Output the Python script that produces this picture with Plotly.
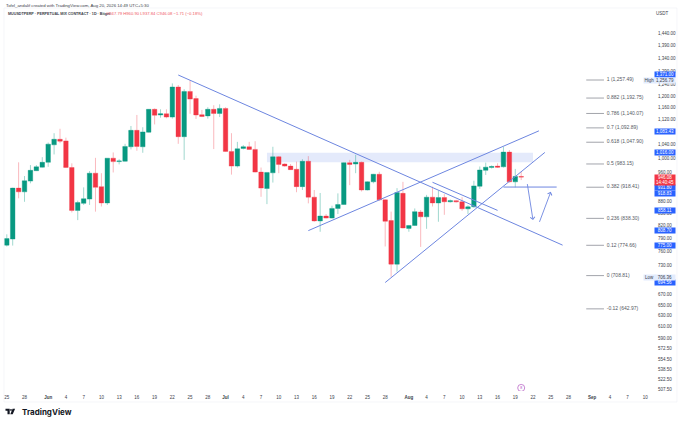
import math
import pandas as pd
import plotly.graph_objects as go

# ---- data ----
start_date = "2026-05-25"
opens = [775,789,916,906,935,964,974,988,1040,1057,1052,973,858,876,887,957,920,877,1000,990,991,1034,1085,1034,1079,1154,1135,1139,1128,1232,1065,1216,1191,
         1136,1132,1154,1140,1157,1020,977,1029,1034,1026,960,915,958,1004,983,977,968,920,991,892,832,844,839,863,873,987,983,988,911,933,954,885,
         833,733,902,814,821,854,842,892,877,891,880,883,880,862,867,921,965,973,977,975,1018,933,947.79]
highs = [800,917,988,949,980,980,1003,1047,1076,1090,1062,985,883,918,963,1001,957,1000,1017,997,1043,1099,1135,1095,1155,1157,1154,1154,1245,1239,1224,1256.79,1201,
         1152,1161,1168,1171,1161,1076,1049,1039,1049,1051,973,959,1034,1006,985,983,990,997,1006,911,903,849,870,902,988,995,1010,990,934,955,961,886,
         855,916,933,822,863,859,898,920,909,900,886,885,892,871,936,976,987,979,985,1034,1024,969,960.9]
lows = [772,774,889,880,929,963,973,975,1011,1045,972,853,834,872,872,855,868,872,959,982,990,1026,1022,1016,1078,1104,1126,1124,1123,1043,995,1139,1122,
        1128,1123,1027,1128,1019,953,973,1026,1025,959,893,874,931,957,975,966,905,911,876,830,806,838,838,849,872,924,957,907,910,929,883,772,
        706.36,717,814,806,820,771,813,868,830,847,878,878,857,849,865,914,952,970,972,973,931,918,937.84]
closes = [790,916,906,936,965,975,988,1042,1057,1051,973,858,878,888,957,918,877,1000,990,992,1035,1085,1035,1080,1154,1134,1139,1128,1232,1065,1216,1189,1135,
          1130,1154,1140,1157,1020,977,1028,1034,1026,960,916,959,1004,982,977,967,920,991,892,832,844,839,863,873,987,982,988,911,933,954,885,831,
          733,904,815,821,855,842,892,877,891,880,883,880,862,867,922,966,974,976,974,1018,933,948,946.08]

fib_ratios = ["1","0.882","0.786","0.7","0.618","0.5","0.382","0.236","0.12","0","-0.12"]
fib_prices = [1257.49,1192.75,1140.07,1092.89,1047.90,983.15,918.41,838.30,774.66,708.81,642.97]
fib_from, fib_to = "2026-08-31", "2026-09-03"

price_ticks = [1440,1390,1340,1290,1240,1200,1160,1120,1040,1000,960,880,850,820,790,760,730,
               670,650,630,610,590,572.5,554.5,538.5,522.5,507.5]

date_ticks = ["2026-05-25","2026-05-28","2026-06-01","2026-06-04","2026-06-07","2026-06-10","2026-06-13","2026-06-16",
              "2026-06-19","2026-06-22","2026-06-25","2026-06-28","2026-07-01","2026-07-04","2026-07-07","2026-07-10",
              "2026-07-13","2026-07-16","2026-07-19","2026-07-22","2026-07-25","2026-07-28","2026-08-01","2026-08-04",
              "2026-08-07","2026-08-10","2026-08-13","2026-08-16","2026-08-19","2026-08-22","2026-08-25","2026-08-28",
              "2026-09-01","2026-09-04","2026-09-07","2026-09-10"]
date_labels = ["25","28","<b>Jun</b>","4","7","10","13","16","19","22","25","28","<b>Jul</b>","4","7","10","13","16",
               "19","22","25","28","<b>Aug</b>","4","7","10","13","16","19","22","25","28","<b>Sep</b>","4","7","10"]

trend_lines = [
    (["2026-06-23","2026-08-27"],[1276,775]),
    (["2026-07-15","2026-08-23"],[808.7,1083.43]),
    (["2026-07-28","2026-08-24"],[694.56,1017]),
    (["2026-08-05","2026-08-16"],[931.8,858.11]),
    (["2026-08-17","2026-08-26"],[918.83,918.83]),
]
arrows = [
    ("2026-08-21",931,"2026-08-22",834),
    ("2026-08-23",826,"2026-08-25",906),
]
zone_dates = ["2026-07-08","2026-08-22"]
zone_prices = [988,1016]

tags_blue = [("1,371.00",74.7),("1,083.43",131),("1,016.00",152.7),("931.80",187.7),("918.83",193.3),
             ("858.11",210.3),("808.70",230.7),("775.00",245),("694.56",283)]
header1 = "Tofel_andalif created with TradingView.com, Aug 20, 2026 14:49 UTC+5:30"
header2 = "MUUSDTPERP · PERPETUAL MIX CONTRACT · 1D · Bitget"
ohlc_text = "O947.79 H960.90 L937.84 C946.08 −1.71 (−0.18%)"

# ---- style / layout ----
W, H = 680, 422
L, R, T, B = 3.5, 653, 8, 391
PTOP, PBOT = 1553, 505.4
GREEN, RED = "#089981", "#f23645"
BLUE = "#6d86e0"
TAGBLUE = "#2962ff"
INK = "#3a3e49"
FS = 4.5

def px(x): return (x - L) / (R - L)
def py(y): return (B - y) / (B - T)

dates = pd.date_range(start_date, periods=len(opens), freq="D")

fig = go.Figure()

fig.add_trace(go.Candlestick(
    x=dates, open=opens, high=highs, low=lows, close=closes,
    increasing=dict(line=dict(color="rgba(8,153,129,0.55)", width=0.7), fillcolor=GREEN),
    decreasing=dict(line=dict(color="rgba(242,54,69,0.5)", width=0.7), fillcolor=RED),
    whiskerwidth=0, hoverinfo="skip"))

for xs, ys in trend_lines:
    fig.add_trace(go.Scatter(x=xs, y=ys, mode="lines", line=dict(color=BLUE, width=1), hoverinfo="skip"))

for ratio, price in zip(fib_ratios, fib_prices):
    fig.add_trace(go.Scatter(x=[fib_from, fib_to], y=[price, price], mode="lines",
                             line=dict(color="#8a8d96", width=0.8), hoverinfo="skip"))
fig.add_trace(go.Scatter(
    x=[fib_to]*len(fib_prices), y=fib_prices, mode="text",
    text=[f"  {r} ({p:,.2f})" for r, p in zip(fib_ratios, fib_prices)],
    textposition="middle right", textfont=dict(size=5, color="#555963", family="Liberation Sans"),
    hoverinfo="skip"))

fig.add_trace(go.Scatter(x=["2026-08-20"], y=[510], mode="markers+text", text=["8"],
                         textposition="middle center", textfont=dict(size=3.5, color="#ab47bc"),
                         marker=dict(symbol="circle-open", size=7, color="#ba68c8", line=dict(width=0.8)),
                         hoverinfo="skip"))

ann = []
def text(x, y, s, size=FS, color=INK, anchor="left", **kw):
    ann.append(dict(xref="paper", yref="paper", x=px(x), y=py(y), text=s, showarrow=False,
                    font=dict(size=size, color=color, family=kw.pop("family", "Liberation Sans")),
                    xanchor=anchor, yanchor="middle", **kw))

text(3, 5, header1, size=4.3)
text(6, 13.8, f"<b>{header2}</b>", size=3.7)
text(104, 13.8, ohlc_text, size=4.2, color="#ef5a66")

TAG_H = 4.8
for s, y in tags_blue:
    ann.append(dict(xref="paper", yref="paper", x=px(665), y=py(y), text=s, showarrow=False,
                    font=dict(size=FS, color="white", family="Liberation Sans"),
                    bgcolor=TAGBLUE, width=20, height=TAG_H, borderpad=0, xanchor="center", yanchor="middle"))
for s, y in [("1,256.79", 80), ("706.36", 277)]:
    ann.append(dict(xref="paper", yref="paper", x=px(665), y=py(y), text=s, showarrow=False,
                    font=dict(size=FS, color=INK, family="Liberation Sans"),
                    bgcolor="#e3ecfd", width=20, height=TAG_H, borderpad=0, xanchor="center", yanchor="middle"))
for s, y in [("High", 80), ("Low", 277)]:
    ann.append(dict(xref="paper", yref="paper", x=px(649), y=py(y), text=s, showarrow=False,
                    font=dict(size=FS, color=INK, family="Liberation Sans"),
                    bgcolor="#e3ecfd", width=11, height=TAG_H, borderpad=0, xanchor="center", yanchor="middle"))
ann.append(dict(xref="paper", yref="paper", x=px(665), y=py(179.6), text="946.08<br>14:40:45", showarrow=False,
                font=dict(size=FS, color="white", family="Liberation Sans"),
                bgcolor=RED, width=20, height=10, borderpad=0, xanchor="center", yanchor="middle"))

for x0, y0, x1, y1 in arrows:
    ann.append(dict(xref="x", yref="y", axref="x", ayref="y", x=x1, y=math.log10(y1), ax=x0, ay=math.log10(y0),
                    text="", showarrow=True, arrowhead=4, arrowsize=1.0, arrowwidth=0.9, arrowcolor=BLUE))

text(19.5, 412, "<b>TradingView</b>", size=8, color="#131722", family="Inter")

def lp(pts):
    return "M " + " L ".join(f"{px(x):.5f},{py(y):.5f}" for x, y in pts) + " Z"
logo = [
    lp([(5, 408.7), (9.2, 408.7), (9.2, 414.2), (7, 414.2), (7, 410.8), (5, 410.8)]),
    lp([(12.1, 408.7), (14.6, 408.7), (12.2, 414.2), (9.8, 414.2)]),
]
shapes = [dict(type="rect", xref="x", yref="y", layer="below", x0=zone_dates[0], x1=zone_dates[1],
               y0=zone_prices[0], y1=zone_prices[1], fillcolor="#e4eafb", line=dict(width=0))]
shapes += [dict(type="path", xref="paper", yref="paper", path=p, fillcolor="#131722", line=dict(width=0)) for p in logo]
shapes.append(dict(type="circle", xref="paper", yref="paper", x0=px(9.6), x1=px(11.4), y0=py(410.8), y1=py(409),
                   fillcolor="#131722", line=dict(width=0)))
frame = "#eef0f5"
shapes += [
    dict(type="line", xref="paper", yref="paper", x0=px(3.5), x1=px(3.5), y0=py(8), y1=py(402), line=dict(color=frame, width=0.6)),
    dict(type="line", xref="paper", yref="paper", x0=px(3.5), x1=px(677), y0=py(402), y1=py(402), line=dict(color=frame, width=0.6)),
    dict(type="line", xref="paper", yref="paper", x0=px(677), x1=px(677), y0=py(8), y1=py(402), line=dict(color=frame, width=0.6)),
    dict(type="line", xref="paper", yref="paper", x0=px(3.5), x1=px(677), y0=py(8), y1=py(8), line=dict(color=frame, width=0.6)),
]

fig.update_layout(
    width=W, height=H, autosize=False, showlegend=False,
    paper_bgcolor="white", plot_bgcolor="white",
    margin=dict(l=L, r=W-R, t=T, b=H-B, pad=0),
    font=dict(family="Liberation Sans", size=FS, color=INK),
    annotations=ann, shapes=shapes, boxgap=0.15, boxgroupgap=0.1,
    xaxis=dict(type="date", range=["2026-05-24 12:40", "2026-09-11 07:00"], showgrid=False, zeroline=False,
               showline=False, rangeslider=dict(visible=False), tickmode="array", tickvals=date_ticks,
               ticktext=date_labels, tickangle=0, ticks="", ticklabelstandoff=2,
               tickfont=dict(size=FS, color=INK)),
    yaxis=dict(type="log", side="right", range=[math.log10(PBOT), math.log10(PTOP)], showgrid=False, zeroline=False,
               showline=False, tickmode="array", tickvals=price_ticks, ticktext=[f"{v:,.2f}" for v in price_ticks],
               ticks="", ticklabelstandoff=4, tickfont=dict(size=FS, color=INK)),
)
fig.add_annotation(xref="paper", yref="paper", x=px(663), y=py(14), text="USDT", showarrow=False,
                   font=dict(size=FS, color=INK), xanchor="center", yanchor="middle")

fig.write_html("out.html", config={"displayModeBar": False},
               post_script="document.body.style.margin='0';document.documentElement.style.overflow='hidden';")
